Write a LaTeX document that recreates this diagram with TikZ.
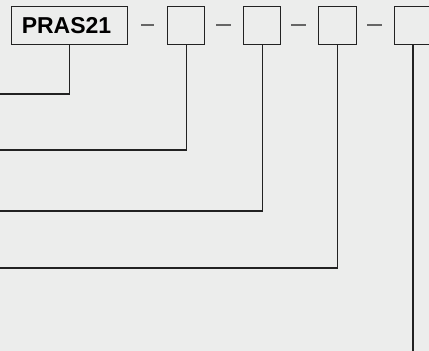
\documentclass[tikz,border=0pt]{standalone}
\usepackage{fontspec}
\setmainfont{Liberation Sans}
\definecolor{bg}{HTML}{ECEDEC}
\definecolor{ln}{HTML}{222222}
\definecolor{dsh}{HTML}{666666}
\begin{document}
\begin{tikzpicture}[x=1pt,y=-1pt,
  box/.style={draw=ln,line width=1.3pt,fill=bg,inner sep=0pt,minimum height=38pt,anchor=north west},
  conn/.style={draw=ln,line width=1.2pt},
  sep/.style={draw=dsh,line width=1.3pt}]
\useasboundingbox (0,0) rectangle (429,351);
\fill[bg] (0,0) rectangle (429,351);
\clip (0,0) rectangle (429,351);
\node[box,minimum width=116pt] (p) at (11,6) {};
\node[font=\bfseries\fontsize{23}{23}\selectfont] (pt) at (66.5,25.5) {PRAS21};
\node[box,minimum width=37pt] (b1) at (167,6) {};
\node[box,minimum width=37pt] (b2) at (243,6) {};
\node[box,minimum width=38pt] (b3) at (318,6) {};
\node[box,minimum width=37pt] (b4) at (394,6) {};
\coordinate (e0) at (0,94);
\coordinate (e1) at (0,150);
\coordinate (e2) at (0,211);
\coordinate (e3) at (0,268);
\coordinate (e4) at (413,351);
\draw[sep] (141,25) -- (154,25);
\draw[sep] (216,25) -- (231,25);
\draw[sep] (291,25) -- (306,25);
\draw[sep] (367,25) -- (382,25);
\draw[conn] (p.south) |- (e0);
\draw[conn] (b1.south) |- (e1);
\draw[conn] (b2.south) |- (e2);
\draw[conn] (b3.south) |- (e3);
\draw[conn] (b4.south -| e4) -- (e4);
\end{tikzpicture}
\end{document}
